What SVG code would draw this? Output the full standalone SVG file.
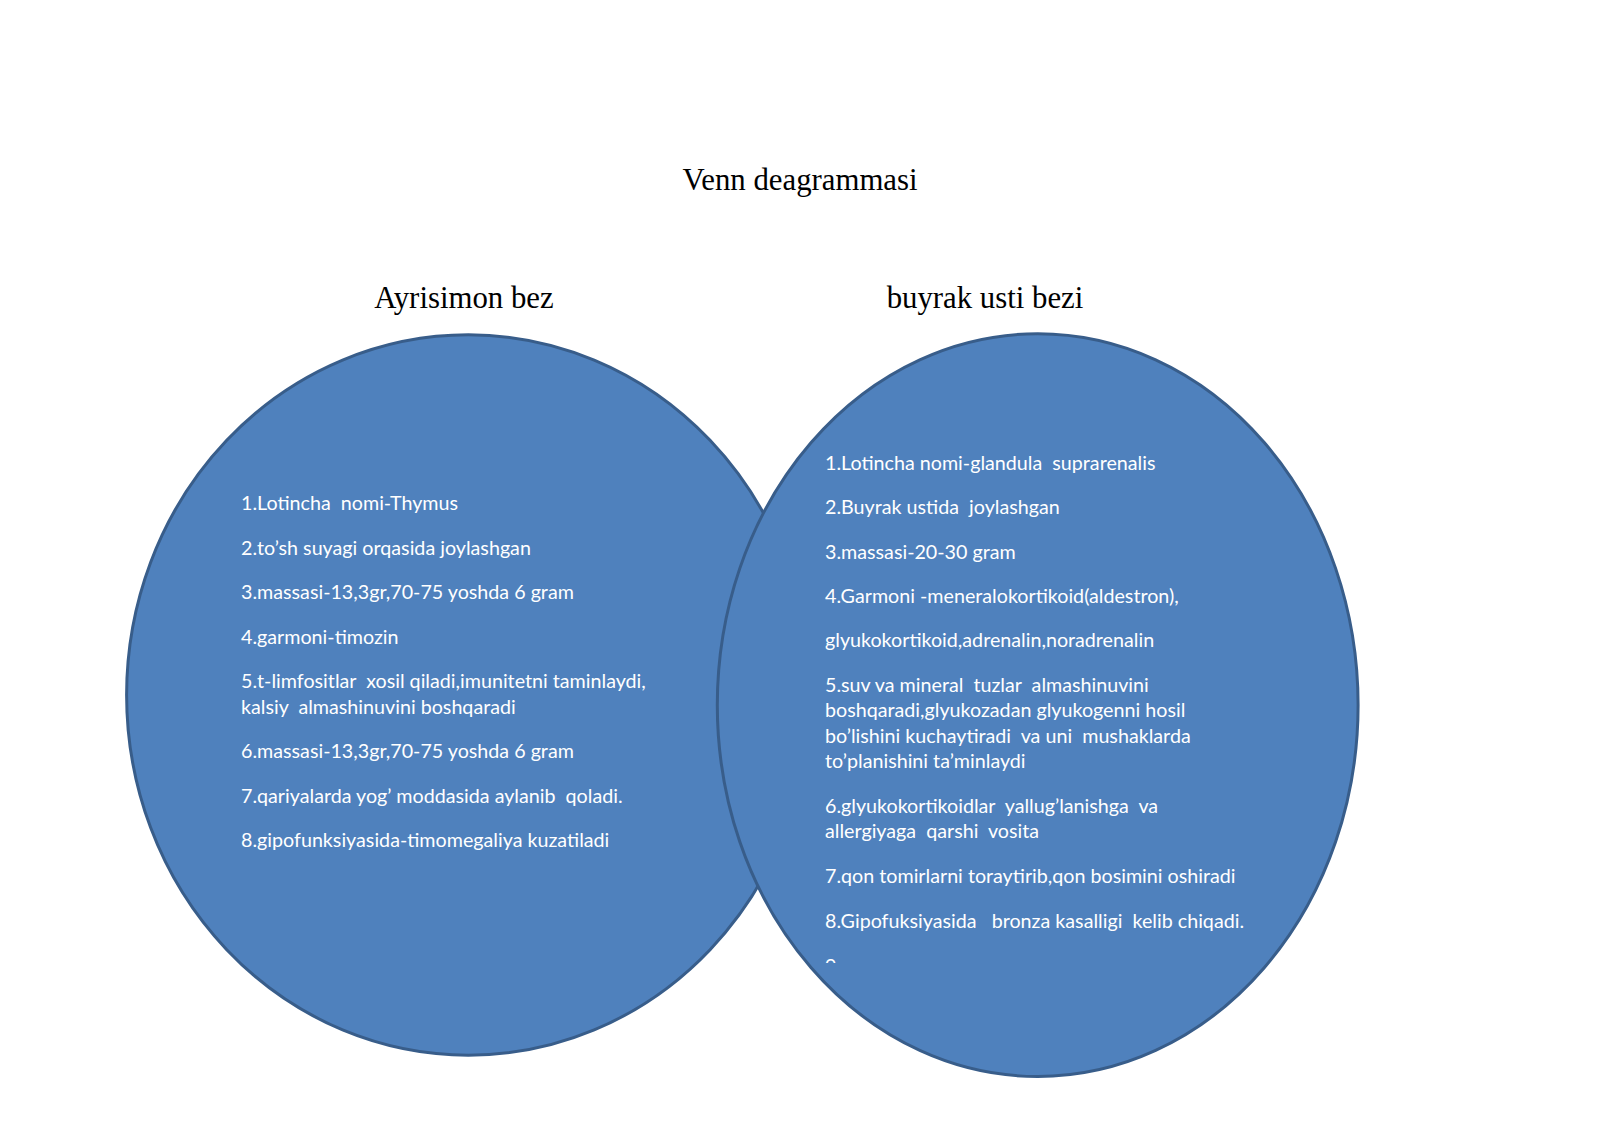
<svg xmlns="http://www.w3.org/2000/svg" width="1600" height="1131" viewBox="0 0 1600 1131">
<style>
.title{font-family:"Liberation Serif","Times New Roman",serif;font-size:30.8px;fill:#000;text-anchor:middle}
.circ{fill:#4F81BD;stroke:#385D8A;stroke-width:3}
.t{font-family:Lato,"Noto Sans",sans-serif;font-size:19.7px;fill:#fff;white-space:pre}
</style>
<defs>
<clipPath id="clipR"><rect x="815" y="440" width="460" height="523"/></clipPath>
</defs>
<rect width="1600" height="1131" fill="#fff"/>
<text class="title" x="800" y="190">Venn deagrammasi</text>
<text class="title" x="464" y="308">Ayrisimon bez</text>
<text class="title" x="985" y="308">buyrak usti bezi</text>
<g id="left">
<ellipse class="circ" cx="468.4" cy="695" rx="341.8" ry="360.2"/>
<text class="t" x="241" y="510">1.Lotincha  nomi-Thymus</text>
<text class="t" x="241" y="555">2.to’sh suyagi orqasida joylashgan</text>
<text class="t" x="241" y="599">3.massasi-13,3gr,70-75 yoshda 6 gram</text>
<text class="t" x="241" y="644">4.garmoni-timozin</text>
<text class="t" x="241" y="688">5.t-limfositlar  xosil qiladi,imunitetni taminlaydi,</text>
<text class="t" x="241" y="714">kalsiy  almashinuvini boshqaradi</text>
<text class="t" x="241" y="758">6.massasi-13,3gr,70-75 yoshda 6 gram</text>
<text class="t" x="241" y="803">7.qariyalarda yog’ moddasida aylanib  qoladi.</text>
<text class="t" x="241" y="847">8.gipofunksiyasida-timomegaliya kuzatiladi</text>
</g>
<g id="right">
<ellipse class="circ" cx="1037.7" cy="705.1" rx="320.4" ry="371.4"/>
<text class="t" x="825" y="470">1.Lotincha nomi-glandula  suprarenalis</text>
<text class="t" x="825" y="514">2.Buyrak ustida  joylashgan</text>
<text class="t" x="825" y="559">3.massasi-20-30 gram</text>
<text class="t" x="825" y="603">4.Garmoni -meneralokortikoid(aldestron),</text>
<text class="t" x="825" y="647">glyukokortikoid,adrenalin,noradrenalin</text>
<text class="t" x="825" y="692">5.suv va mineral  tuzlar  almashinuvini</text>
<text class="t" x="825" y="717">boshqaradi,glyukozadan glyukogenni hosil</text>
<text class="t" x="825" y="743">bo’lishini kuchaytiradi  va uni  mushaklarda</text>
<text class="t" x="825" y="768">to’planishini ta’minlaydi</text>
<text class="t" x="825" y="813">6.glyukokortikoidlar  yallug’lanishga  va</text>
<text class="t" x="825" y="838">allergiyaga  qarshi  vosita</text>
<text class="t" x="825" y="883">7.qon tomirlarni toraytirib,qon bosimini oshiradi</text>
<text class="t" x="825" y="928">8.Gipofuksiyasida   bronza kasalligi  kelib chiqadi.</text>
<text class="t" x="825" y="973" clip-path="url(#clipR)">9.</text>
</g>
</svg>
